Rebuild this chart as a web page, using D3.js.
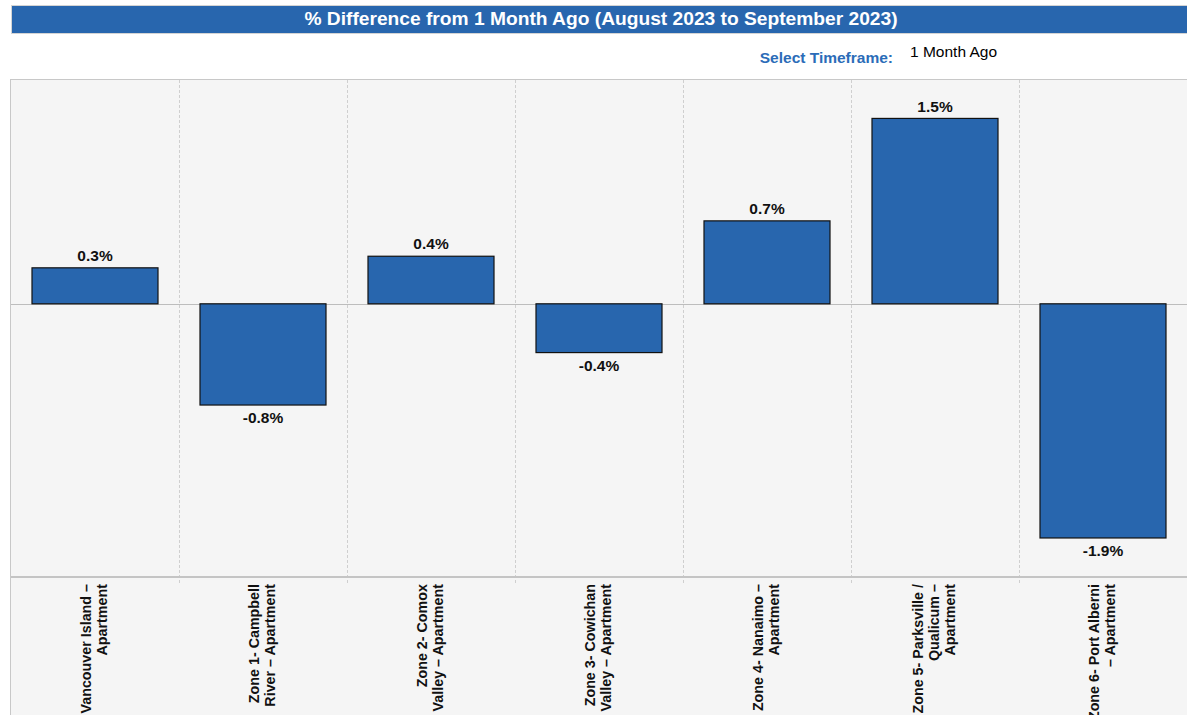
<!DOCTYPE html>
<html>
<head>
<meta charset="utf-8">
<script src="https://cdn.jsdelivr.net/npm/d3@7"></script>
<style>
  body { margin: 0; background: #fff; }
  svg { display: block; font-family: Arial, "Liberation Sans", sans-serif; }
</style>
</head>
<body>
<svg></svg>
<script>
// data
let categories = [
  [ 'Vancouver Island –', 'Apartment' ],
  [ 'Zone 1- Campbell', 'River – Apartment' ],
  [ 'Zone 2- Comox', 'Valley – Apartment' ],
  [ 'Zone 3- Cowichan', 'Valley – Apartment' ],
  [ 'Zone 4- Nanaimo –', 'Apartment' ],
  [ 'Zone 5- Parksville /', 'Qualicum –', 'Apartment' ],
  [ 'Zone 6- Port Alberni', '– Apartment' ]
]
let values = [ 0.295, -0.83, 0.39, -0.40, 0.68, 1.52, -1.92 ]
let titleText = '% Difference from 1 Month Ago (August 2023 to September 2023)'

let width = 1187
let height = 715
let blue = '#2866ae'

let plot = { left: 11, right: 1187, top: 80, bottom: 577 }

let data = categories.map( ( c, i ) => ( { key: c.join( ' ' ), lines: c, value: values[ i ] } ) )

const xScale =
d3.scaleBand()
  .domain( data.map( d => d.key ) )
  .range( [ plot.left, plot.right ] )
  .paddingInner( 0.25 )
  .paddingOuter( 0.125 )

const yScale =
d3.scaleLinear()
  .domain( [ -2.24, 1.835 ] )
  .range( [ plot.bottom, plot.top ] )

let chart =
d3.select( 'svg' )
  .attr( 'width', width )
  .attr( 'height', height )

// title bar
chart.append( 'rect' )
  .attr( 'x', 11.5 )
  .attr( 'y', 5.5 )
  .attr( 'width', width - 11 )
  .attr( 'height', 28 )
  .attr( 'fill', blue )
  .attr( 'stroke', '#d4d4d4' )

chart.append( 'text' )
  .text( titleText )
  .attr( 'x', 601 )
  .attr( 'y', 20 )
  .attr( 'text-anchor', 'middle' )
  .attr( 'dominant-baseline', 'middle' )
  .attr( 'fill', '#fff' )
  .attr( 'font-weight', 'bold' )
  .attr( 'font-size', 19.2 )

chart.append( 'text' )
  .text( 'Select Timeframe:' )
  .attr( 'x', 893 )
  .attr( 'y', 63 )
  .attr( 'text-anchor', 'end' )
  .attr( 'fill', '#2b6cb8' )
  .attr( 'font-weight', 'bold' )
  .attr( 'font-size', 15.5 )

chart.append( 'text' )
  .text( '1 Month Ago' )
  .attr( 'x', 910 )
  .attr( 'y', 57 )
  .attr( 'fill', '#000' )
  .attr( 'font-size', 15.5 )

// panel background
chart.append( 'rect' )
  .attr( 'x', plot.left - 0.5 )
  .attr( 'y', plot.top - 0.5 )
  .attr( 'width', width - plot.left + 2 )
  .attr( 'height', height - plot.top + 2 )
  .attr( 'fill', '#f5f5f5' )
  .attr( 'stroke', '#c8c8c8' )

// dashed separators between categories
let step = xScale.step()
let seps = data.slice( 1 ).map( d => xScale( d.key ) - xScale.paddingInner() * step / 2 )

chart.selectAll( 'line.sep' )
  .data( seps )
  .enter()
  .append( 'line' )
  .attr( 'class', 'sep' )
  .attr( 'x1', d => Math.round( d ) + 0.5 )
  .attr( 'x2', d => Math.round( d ) + 0.5 )
  .attr( 'y1', plot.top )
  .attr( 'y2', plot.bottom + 6 )
  .attr( 'stroke', '#cfcfcf' )
  .attr( 'stroke-dasharray', '3,2' )

// axis line at bottom of plot
chart.append( 'line' )
  .attr( 'x1', plot.left )
  .attr( 'x2', width )
  .attr( 'y1', plot.bottom )
  .attr( 'y2', plot.bottom )
  .attr( 'stroke', '#c4c4c4' )
  .attr( 'stroke-width', 2 )

// zero line
chart.append( 'line' )
  .attr( 'x1', plot.left )
  .attr( 'x2', width )
  .attr( 'y1', Math.round( yScale( 0 ) ) + 0.5 )
  .attr( 'y2', Math.round( yScale( 0 ) ) + 0.5 )
  .attr( 'stroke', '#bdbdbd' )

let bars =
chart.selectAll( 'rect.bar' )
  .data( data )
  .enter()
  .append( 'rect' )
  .attr( 'class', 'bar' )

bars
  .attr( 'x', d => xScale( d.key ) )
  .attr( 'width', xScale.bandwidth() )
  .attr( 'y', d => yScale( Math.max( 0, d.value ) ) )
  .attr( 'height', d => Math.abs( yScale( d.value ) - yScale( 0 ) ) )
  .attr( 'fill', blue )
  .attr( 'stroke', '#111' )
  .attr( 'stroke-width', 1.2 )

// plain hyphen for negatives, as in the reference
let fmt = d3.formatLocale( { decimal: '.', thousands: ',', grouping: [ 3 ], currency: [ '', '' ], minus: '-' } ).format( '.1f' )

chart.selectAll( 'text.val' )
  .data( data )
  .enter()
  .append( 'text' )
  .attr( 'class', 'val' )
  .text( d => fmt( d.value ) + '%' )
  .attr( 'x', d => xScale( d.key ) + xScale.bandwidth() / 2 )
  .attr( 'y', d => d.value >= 0 ? yScale( d.value ) - 11 : yScale( d.value ) + 14 )
  .attr( 'text-anchor', 'middle' )
  .attr( 'dominant-baseline', 'middle' )
  .attr( 'font-weight', 'bold' )
  .attr( 'font-size', 15.5 )
  .attr( 'fill', '#111' )

// rotated category labels
let lineH = 16
let labels =
chart.selectAll( 'g.lab' )
  .data( data )
  .enter()
  .append( 'g' )
  .attr( 'class', 'lab' )
  .attr( 'transform', d => {
    let cx = xScale( d.key ) + xScale.bandwidth() / 2
    let x0 = cx - ( d.lines.length - 1 ) * lineH / 2
    return 'translate(' + x0 + ',' + ( plot.bottom + 7 ) + ') rotate(-90)'
  } )

labels.selectAll( 'text' )
  .data( d => d.lines )
  .enter()
  .append( 'text' )
  .text( d => d )
  .attr( 'x', 0 )
  .attr( 'y', ( d, i ) => i * lineH )
  .attr( 'text-anchor', 'end' )
  .attr( 'dominant-baseline', 'middle' )
  .attr( 'font-weight', 'bold' )
  .attr( 'font-size', 14.3 )
  .attr( 'fill', '#111' )
</script>
</body>
</html>
